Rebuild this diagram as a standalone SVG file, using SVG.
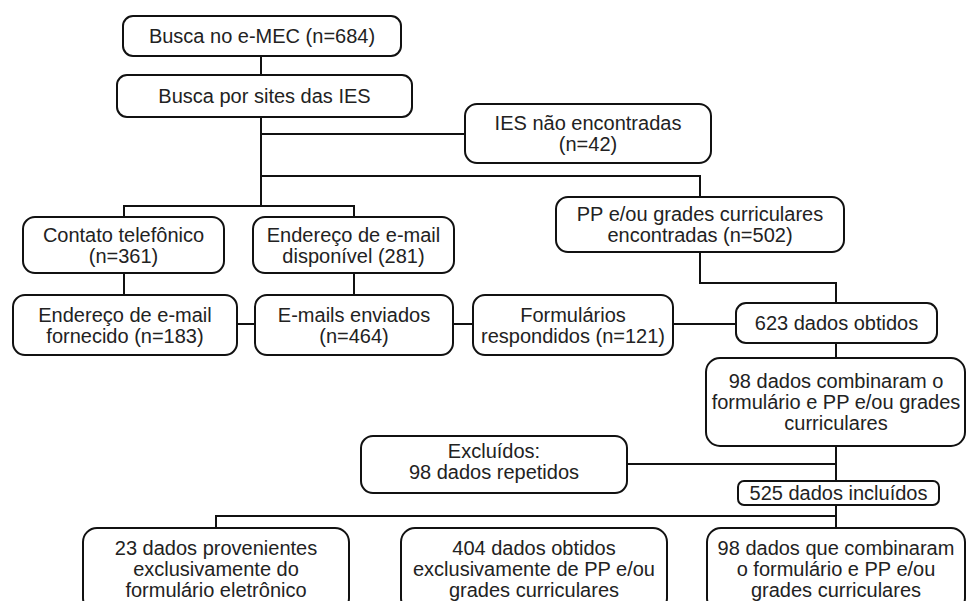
<svg xmlns="http://www.w3.org/2000/svg" width="966" height="601" viewBox="0 0 966 601">
<style>
.box{fill:#fff;stroke:#111;stroke-width:2}
.ln{fill:none;stroke:#111;stroke-width:2}
text{font-family:"Liberation Sans",Arial,sans-serif;font-size:20px;fill:#222;text-anchor:middle}
</style>
<rect width="966" height="601" fill="#fff"/>
<g id="connectors">
<path class="ln" d="M261,56V75"/>
<path class="ln" d="M261,117V206"/>
<path class="ln" d="M261,134H465"/>
<path class="ln" d="M261,176H700V197"/>
<path class="ln" d="M124,217V206H354V217"/>
<path class="ln" d="M124,273V295"/>
<path class="ln" d="M354,273V295"/>
<path class="ln" d="M237,324H255"/>
<path class="ln" d="M453,324H473"/>
<path class="ln" d="M673,324H736"/>
<path class="ln" d="M700,252V283H836V303"/>
<path class="ln" d="M836,343V358"/>
<path class="ln" d="M836,446V481"/>
<path class="ln" d="M627,464H836"/>
<path class="ln" d="M836,505V528"/>
<path class="ln" d="M216,528V516H836"/>
</g>
<g id="n1"><rect class="box" x="123" y="16" width="278" height="40" rx="10"/><text x="262" y="43">Busca no e-MEC (n=684)</text></g>
<g id="n2"><rect class="box" x="117" y="75" width="295" height="42" rx="10"/><text x="264.5" y="103">Busca por sites das IES</text></g>
<g id="n3"><rect class="box" x="465" y="104" width="246" height="59" rx="12"/><text x="588" y="130">IES não encontradas</text><text x="588" y="151">(n=42)</text></g>
<g id="n4"><rect class="box" x="556" y="197" width="288" height="55" rx="12"/><text x="700" y="221">PP e/ou grades curriculares</text><text x="700" y="242">encontradas (n=502)</text></g>
<g id="n5"><rect class="box" x="23" y="217" width="201" height="56" rx="12"/><text x="123.5" y="242">Contato telefônico</text><text x="123.5" y="263">(n=361)</text></g>
<g id="n6"><rect class="box" x="253" y="217" width="201" height="56" rx="12"/><text x="353.5" y="242">Endereço de e-mail</text><text x="353.5" y="263">disponível (281)</text></g>
<g id="n7"><rect class="box" x="13" y="295" width="224" height="60" rx="12"/><text x="125" y="321.5">Endereço de e-mail</text><text x="125" y="342.5">fornecido (n=183)</text></g>
<g id="n8"><rect class="box" x="255" y="295" width="198" height="60" rx="12"/><text x="354" y="321.5">E-mails enviados</text><text x="354" y="342.5">(n=464)</text></g>
<g id="n9"><rect class="box" x="473" y="295" width="200" height="60" rx="12"/><text x="573" y="321.5">Formulários</text><text x="573" y="342.5">respondidos (n=121)</text></g>
<g id="n10"><rect class="box" x="736" y="303" width="201" height="40" rx="10"/><text x="836.5" y="330">623 dados obtidos</text></g>
<g id="n11"><rect class="box" x="706" y="358" width="259" height="88" rx="14"/><text x="836" y="388">98 dados combinaram o</text><text x="836" y="409">formulário e PP e/ou grades</text><text x="836" y="430">curriculares</text></g>
<g id="n12"><rect class="box" x="361" y="436" width="266" height="57" rx="12"/><text x="494" y="458">Excluídos:</text><text x="494" y="479">98 dados repetidos</text></g>
<g id="n13"><rect class="box" x="738" y="481" width="201" height="24" rx="6"/><text x="838.5" y="500">525 dados incluídos</text></g>
<g id="n14"><rect class="box" x="83" y="528" width="266" height="84" rx="14"/><text x="216" y="555">23 dados provenientes</text><text x="216" y="576">exclusivamente do</text><text x="216" y="597">formulário eletrônico</text></g>
<g id="n15"><rect class="box" x="401" y="528" width="266" height="84" rx="14"/><text x="534" y="555">404 dados obtidos</text><text x="534" y="576">exclusivamente de PP e/ou</text><text x="534" y="597">grades curriculares</text></g>
<g id="n16"><rect class="box" x="707" y="528" width="258" height="84" rx="14"/><text x="836" y="555">98 dados que combinaram</text><text x="836" y="576">o formulário e PP e/ou</text><text x="836" y="597">grades curriculares</text></g>
</svg>
